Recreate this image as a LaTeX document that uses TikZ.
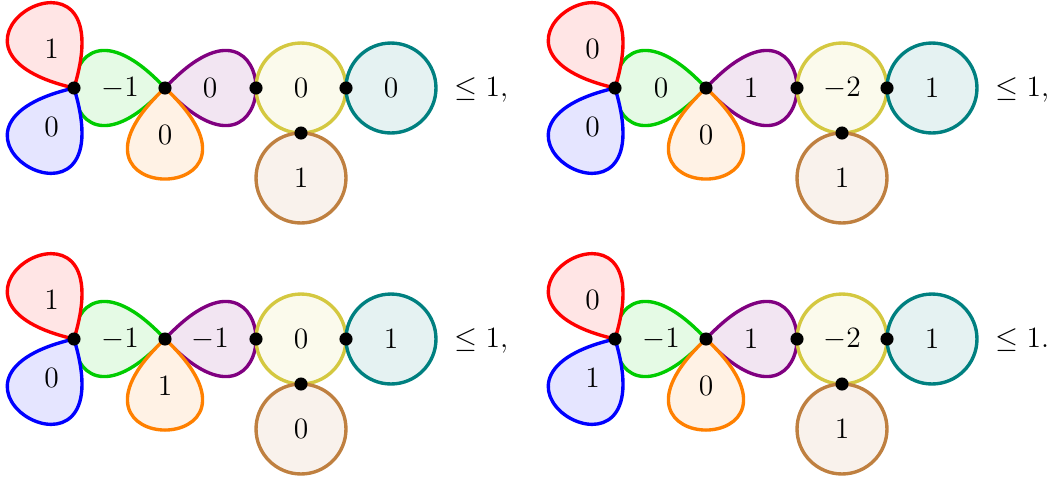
\documentclass[tikz,border=0pt]{standalone}
\definecolor{cgreen}{RGB}{0,204,0}
\definecolor{cyellow}{RGB}{212,200,64}
\definecolor{cpurple}{RGB}{128,0,128}
\tikzset{
  every node/.style={font=\fontsize{14.4}{17}\selectfont},
  petal/.style={line width=1.65pt, draw=#1, fill=#1!10},
  ring/.style={circle, line width=1.65pt, draw=#1, fill=#1!10, minimum size=43.9pt, inner sep=0pt},
  vtx/.style={circle, fill=black, inner sep=0pt, minimum size=6.4pt},
  lbl/.style={inner sep=0pt},
}
\newcommand\petalloop[3]{%
  \draw[petal=#3] (#1) .. controls +(#2+47:178) and +(#2-47:178) .. (#1);}
\newcommand\flower[9]{%
  \coordinate (A) at (74,-88);
  \coordinate (B) at (165,-88);
  \coordinate (C) at (256,-88);
  \coordinate (D) at (346,-88);
  \coordinate (E) at (301,-133);
  \petalloop{B}{180}{cgreen}
  \petalloop{B}{0}{cpurple}
  \petalloop{A}{120}{red}
  \petalloop{A}{240}{blue}
  \petalloop{B}{270}{orange}
  \node[lbl] (lr) at ([shift={(120:45)}]A) {$#1$};
  \node[lbl] (lb) at ([shift={(240:45)}]A) {$#2$};
  \node[lbl] (lg) at ([shift={(180:45)}]B) {$#3$};
  \node[lbl] (lo) at ([shift={(270:47)}]B) {$#4$};
  \node[lbl] (lp) at ([shift={(0:45)}]B) {$#5$};
  \node[ring=cyellow] (Y) at (301,-88) {$#6$};
  \node[ring=teal] (T) at (391,-88) {$#7$};
  \node[ring=brown] (W) at (301,-178) {$#8$};
  \node[vtx] (vA) at (A) {};
  \node[vtx] (vB) at (B) {};
  \node[vtx] (vC) at (C) {};
  \node[vtx] (vD) at (D) {};
  \node[vtx] (vE) at (E) {};
  \node[anchor=base west, inner sep=0pt] (txt) at (454,-96.5) {$\le 1#9$};
}
\begin{document}
\begin{tikzpicture}[x=0.488pt, y=0.488pt]
  \useasboundingbox (0,0) rectangle (1056,-483);
  \begin{scope}[name prefix=p1-]
    \flower{1}{0}{-1}{0}{0}{0}{0}{1}{,}
  \end{scope}
  \begin{scope}[shift={(541,0)}, name prefix=p2-]
    \flower{0}{0}{0}{0}{1}{-2}{1}{1}{,}
  \end{scope}
  \begin{scope}[shift={(0,-251)}, name prefix=p3-]
    \flower{1}{0}{-1}{1}{-1}{0}{1}{0}{,}
  \end{scope}
  \begin{scope}[shift={(541,-251)}, name prefix=p4-]
    \flower{0}{1}{-1}{0}{1}{-2}{1}{1}{.}
  \end{scope}
\end{tikzpicture}
\end{document}
